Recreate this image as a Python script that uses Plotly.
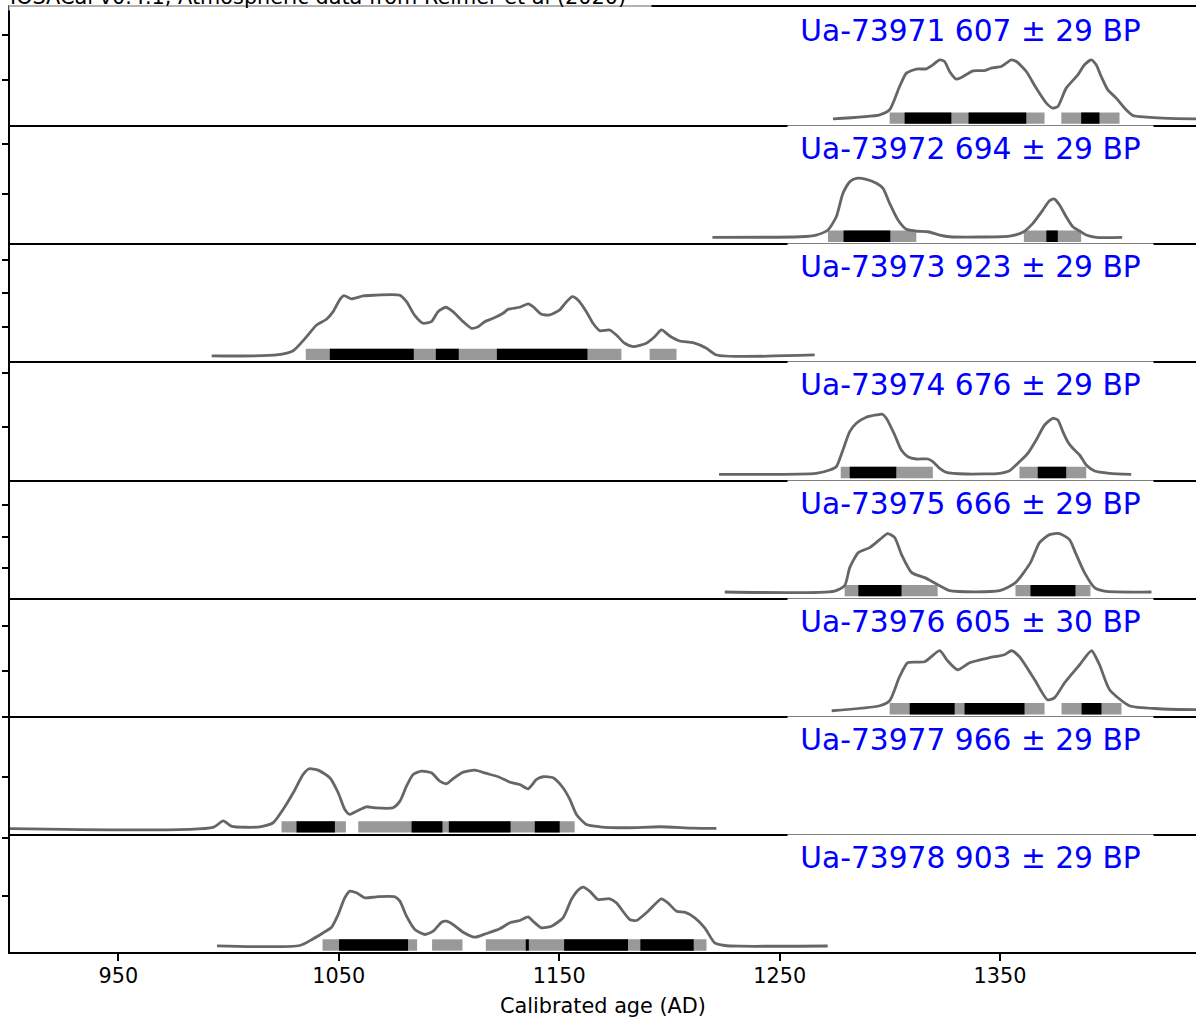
import plotly.graph_objects as go
from plotly.subplots import make_subplots

# ---------------- data ----------------
title_text = "IOSACal v0.4.1, Atmospheric data from Reimer et al (2020)"
x_title = "Calibrated age (AD)"
x_ticks = [950, 1050, 1150, 1250, 1350]
x_range = [900.8, 1438.9]

labels = [
    "Ua-73971 607 ± 29 BP",
    "Ua-73972 694 ± 29 BP",
    "Ua-73973 923 ± 29 BP",
    "Ua-73974 676 ± 29 BP",
    "Ua-73975 666 ± 29 BP",
    "Ua-73976 605 ± 30 BP",
    "Ua-73977 966 ± 29 BP",
    "Ua-73978 903 ± 29 BP",
]

p1_years = [1274.2, 1295.4, 1299.9, 1304.4, 1307.5, 1312.0, 1316.5, 1319.5, 1322.6, 1324.8, 1327.1, 1330.1,
            1332.4, 1337.7, 1343.0, 1346.0, 1350.5, 1352.8, 1355.1, 1357.4, 1361.9, 1366.4, 1371.0, 1373.9,
            1376.2, 1380.0, 1385.3, 1388.3, 1391.4, 1393.6, 1395.9, 1398.9, 1402.7, 1407.2, 1410.2, 1416.3,
            1423.8, 1440.0, 1460.0]
p1_prob = [0.063, 0.103, 0.153, 0.386, 0.52, 0.56, 0.563, 0.603, 0.653, 0.636, 0.536, 0.46,
           0.476, 0.543, 0.546, 0.57, 0.586, 0.62, 0.653, 0.636, 0.536, 0.37, 0.22, 0.17,
           0.186, 0.37, 0.503, 0.603, 0.653, 0.603, 0.486, 0.353, 0.27, 0.153, 0.096, 0.08,
           0.07, 0.063, 0.062]
p1_hpd95 = [(1299.9, 1370.2), (1377.8, 1404.2)]
p1_hpd68 = [(1306.7, 1327.9), (1335.7, 1361.9), (1386.8, 1395.1)]
p1_yticks = [0.453, 0.903]

p2_years = [1219.5, 1259.1, 1266.6, 1271.9, 1275.7, 1278.7, 1281.8, 1284.8, 1289.3, 1293.9, 1296.9, 1299.9,
            1303.7, 1307.5, 1312.0, 1317.3, 1322.6, 1327.1, 1354.3, 1360.3, 1364.9, 1369.4, 1372.5, 1374.7,
            1377.0, 1380.0, 1383.0, 1386.1, 1389.1, 1393.6, 1405.4]
p2_prob = [0.059, 0.065, 0.082, 0.132, 0.265, 0.499, 0.615, 0.649, 0.639, 0.599, 0.549, 0.399,
           0.232, 0.139, 0.122, 0.115, 0.082, 0.065, 0.072, 0.109, 0.199, 0.332, 0.425, 0.442,
           0.382, 0.265, 0.165, 0.122, 0.082, 0.059, 0.059]
p2_hpd95 = [(1271.9, 1312.0), (1360.8, 1386.8)]
p2_hpd68 = [(1279.0, 1300.2), (1371.0, 1376.2)]
p2_yticks = [0.494, 0.994]

p3_years = [992.3, 1021.8, 1029.3, 1035.4, 1039.9, 1044.4, 1047.4, 1050.5, 1052.3, 1055.8, 1061.0, 1065.6,
            1077.7, 1080.7, 1084.5, 1088.2, 1092.0, 1095.0, 1098.5, 1101.8, 1106.4, 1110.2, 1113.2, 1116.2,
            1120.0, 1124.5, 1126.8, 1132.1, 1135.9, 1138.1, 1141.9, 1145.7, 1150.2, 1153.3, 1156.0, 1158.5,
            1162.3, 1165.3, 1168.4, 1172.9, 1175.9, 1179.7, 1183.5, 1189.5, 1193.3, 1196.4, 1200.1, 1204.7,
            1210.7, 1216.8, 1221.3, 1265.9]
p3_prob = [0.054, 0.064, 0.107, 0.247, 0.364, 0.421, 0.497, 0.621, 0.657, 0.624, 0.654, 0.661,
           0.661, 0.597, 0.457, 0.381, 0.397, 0.497, 0.541, 0.497, 0.397, 0.331, 0.347, 0.397,
           0.431, 0.481, 0.521, 0.541, 0.574, 0.547, 0.471, 0.464, 0.514, 0.597, 0.647, 0.614,
           0.497, 0.381, 0.307, 0.314, 0.264, 0.181, 0.147, 0.181, 0.247, 0.314, 0.254, 0.204,
           0.187, 0.131, 0.064, 0.064]
p3_hpd95 = [(1035.0, 1178.2), (1191.0, 1203.2)]
p3_hpd68 = [(1045.9, 1084.0), (1094.0, 1104.4), (1121.7, 1162.8)]
p3_yticks = [0.34, 0.685, 1.015]

p4_years = [1222.5, 1266.6, 1272.7, 1275.7, 1278.7, 1281.8, 1284.8, 1289.3, 1293.9, 1296.6, 1298.4, 1302.2,
            1305.2, 1308.2, 1312.0, 1317.3, 1319.5, 1322.6, 1325.6, 1334.7, 1349.8, 1354.3, 1358.8, 1362.6,
            1366.4, 1370.2, 1373.9, 1376.2, 1378.5, 1380.7, 1383.0, 1386.1, 1389.1, 1392.9, 1399.7, 1409.5]
p4_prob = [0.052, 0.062, 0.095, 0.128, 0.295, 0.478, 0.562, 0.622, 0.645, 0.652, 0.612, 0.445,
           0.295, 0.228, 0.205, 0.205, 0.178, 0.112, 0.072, 0.055, 0.062, 0.088, 0.178, 0.262,
           0.395, 0.545, 0.612, 0.595, 0.478, 0.378, 0.312, 0.245, 0.145, 0.085, 0.062, 0.052]
p4_hpd95 = [(1277.7, 1319.5), (1358.8, 1389.1)]
p4_hpd68 = [(1281.8, 1302.9), (1367.1, 1380.0)]
p4_yticks = [0.526, 1.066]

p5_years = [1225.1, 1274.9, 1279.5, 1281.8, 1285.7, 1290.8, 1295.4, 1299.0, 1302.2, 1305.3, 1309.9, 1315.8,
            1321.7, 1327.1, 1349.8, 1357.0, 1363.8, 1367.9, 1372.5, 1377.0, 1381.5, 1384.2, 1388.3, 1392.9,
            1397.4, 1418.7]
p5_prob = [0.056, 0.066, 0.12, 0.30, 0.45, 0.50, 0.58, 0.64, 0.60, 0.43, 0.25, 0.20,
           0.13, 0.07, 0.07, 0.15, 0.35, 0.55, 0.63, 0.64, 0.58, 0.45, 0.25, 0.10,
           0.065, 0.056]
p5_hpd95 = [(1279.5, 1321.7), (1357.0, 1391.0)]
p5_hpd68 = [(1285.7, 1305.3), (1363.8, 1384.2)]
p5_yticks = [0.297, 0.607, 0.927]

p6_years = [1273.6, 1295.4, 1299.9, 1304.4, 1308.1, 1315.8, 1322.6, 1326.2, 1330.7, 1336.2, 1345.2, 1352.0,
            1355.2, 1358.8, 1365.7, 1371.5, 1374.7, 1379.3, 1386.1, 1391.5, 1395.1, 1399.7, 1408.7, 1422.3,
            1440.0, 1460.0]
p6_prob = [0.05, 0.10, 0.15, 0.39, 0.53, 0.54, 0.65, 0.55, 0.46, 0.53, 0.58, 0.61,
           0.65, 0.59, 0.36, 0.16, 0.18, 0.33, 0.51, 0.65, 0.51, 0.26, 0.10, 0.07,
           0.06, 0.06]
p6_hpd95 = [(1299.9, 1370.2), (1377.9, 1405.1)]
p6_hpd68 = [(1309.0, 1329.4), (1333.9, 1361.1), (1387.0, 1396.0)]
p6_yticks = [0.448, 0.898]

p7_years = [880.0, 993.0, 997.5, 1001.5, 1008.0, 1014.2, 1020.2, 1024.7, 1029.3, 1033.8, 1036.5, 1040.6,
            1045.9, 1049.7, 1052.7, 1055.0, 1058.0, 1062.6, 1066.3, 1074.6, 1077.7, 1080.7, 1083.7, 1087.5,
            1092.0, 1095.8, 1098.8, 1101.8, 1106.4, 1111.7, 1117.0, 1122.3, 1127.6, 1132.1, 1135.9, 1139.7,
            1142.7, 1147.2, 1151.7, 1154.8, 1157.8, 1162.3, 1168.4, 1180.5, 1195.6, 1210.7, 1221.3]
p7_prob = [0.06, 0.065, 0.13, 0.075, 0.066, 0.071, 0.111, 0.244, 0.411, 0.594, 0.651, 0.637,
           0.561, 0.411, 0.244, 0.194, 0.227, 0.271, 0.261, 0.261, 0.327, 0.477, 0.594, 0.627,
           0.611, 0.527, 0.501, 0.551, 0.617, 0.637, 0.604, 0.571, 0.517, 0.494, 0.451, 0.544,
           0.571, 0.561, 0.461, 0.344, 0.194, 0.094, 0.071, 0.061, 0.071, 0.057, 0.054]
p7_hpd95 = [(1024.0, 1053.2), (1058.8, 1157.0)]
p7_hpd68 = [(1030.8, 1048.2), (1083.0, 1097.0), (1099.9, 1127.9), (1138.9, 1150.2)]
p7_yticks = [0.57, 1.165]

p8_years = [994.7, 1032.3, 1038.4, 1042.9, 1046.7, 1049.7, 1052.7, 1055.0, 1058.0, 1061.8, 1067.1, 1075.4,
            1077.7, 1080.7, 1084.5, 1089.0, 1092.8, 1096.6, 1098.8, 1101.8, 1106.4, 1111.7, 1117.0, 1123.0,
            1127.6, 1132.1, 1135.9, 1138.1, 1141.9, 1146.5, 1151.7, 1155.5, 1158.5, 1160.8, 1163.8, 1167.6,
            1172.9, 1175.9, 1182.0, 1185.0, 1189.5, 1193.3, 1196.3, 1199.3, 1203.2, 1206.9, 1211.5, 1216.0,
            1220.5, 1225.1, 1231.9, 1271.8]
p8_prob = [0.062, 0.065, 0.132, 0.192, 0.248, 0.375, 0.542, 0.608, 0.592, 0.542, 0.552, 0.552,
           0.508, 0.358, 0.225, 0.175, 0.208, 0.298, 0.308, 0.275, 0.198, 0.148, 0.185, 0.232,
           0.292, 0.315, 0.352, 0.308, 0.242, 0.258, 0.342, 0.525, 0.618, 0.648, 0.608, 0.525,
           0.532, 0.492, 0.325, 0.315, 0.392, 0.475, 0.532, 0.492, 0.408, 0.398, 0.342, 0.242,
           0.092, 0.065, 0.058, 0.06]
p8_hpd95 = [(1042.6, 1085.5), (1092.3, 1106.1), (1116.7, 1216.8)]
p8_hpd68 = [(1050.1, 1081.4), (1134.8, 1136.2), (1152.2, 1181.2), (1186.8, 1211.0)]
p8_yticks = [0.561, 1.141]

panels = [
    (p1_years, p1_prob, p1_hpd95, p1_hpd68, p1_yticks),
    (p2_years, p2_prob, p2_hpd95, p2_hpd68, p2_yticks),
    (p3_years, p3_prob, p3_hpd95, p3_hpd68, p3_yticks),
    (p4_years, p4_prob, p4_hpd95, p4_hpd68, p4_yticks),
    (p5_years, p5_prob, p5_hpd95, p5_hpd68, p5_yticks),
    (p6_years, p6_prob, p6_hpd95, p6_hpd68, p6_yticks),
    (p7_years, p7_prob, p7_hpd95, p7_hpd68, p7_yticks),
    (p8_years, p8_prob, p8_hpd95, p8_hpd68, p8_yticks),
]

# ---------------- styling ----------------
FONT = "DejaVu Sans"
W, H = 1196, 1021
ML, MR, MT, MB = 10, 0, 7, 69
Y_TOP = 1.181
BAR_LEVEL = 0.07
CURVE_COLOR = "#666666"
N = len(panels)

fig = make_subplots(rows=N, cols=1, shared_xaxes=True, vertical_spacing=0)

for i, (yrs, prob, h95, h68, yt) in enumerate(panels):
    row = i + 1
    for (a, b) in h95:
        fig.add_trace(go.Scatter(x=[a, b], y=[BAR_LEVEL, BAR_LEVEL], mode="lines",
                                 line=dict(color="#999999", width=11.3), hoverinfo="skip",
                                 showlegend=False), row=row, col=1)
    for (a, b) in h68:
        fig.add_trace(go.Scatter(x=[a, b], y=[BAR_LEVEL, BAR_LEVEL], mode="lines",
                                 line=dict(color="#000000", width=11.3), hoverinfo="skip",
                                 showlegend=False), row=row, col=1)
    fig.add_trace(go.Scatter(x=yrs, y=prob, mode="lines",
                             line=dict(color=CURVE_COLOR, width=2.8, shape="spline", smoothing=0.6),
                             showlegend=False), row=row, col=1)
    fig.update_yaxes(range=[0, Y_TOP], tickvals=yt, showticklabels=False, ticks="outside",
                     ticklen=6, tickwidth=1.6, tickcolor="black", showline=True, linecolor="black",
                     linewidth=1.8, mirror=False, showgrid=False, zeroline=False, automargin=False,
                     row=row, col=1)
    last = (row == N)
    fig.update_xaxes(range=x_range, showline=True, mirror=(row == 1), linecolor="black", linewidth=1.8,
                     showgrid=False, zeroline=False, automargin=False,
                     ticks="outside" if last else "", tickvals=x_ticks if last else None,
                     showticklabels=last, ticklen=7, tickwidth=1.6, tickcolor="black",
                     row=row, col=1)

fig.update_xaxes(title=dict(text=x_title, font=dict(family=FONT, size=20.8, color="black"), standoff=12),
                 tickfont=dict(family=FONT, size=20.8, color="black"), ticklabelstandoff=-3,
                 row=N, col=1)

annotations = []
plot_w = W - ML - MR
for i, lab in enumerate(labels):
    top = 1 - i / N
    annotations.append(dict(
        text=lab, xref="paper", yref="paper", x=(1154 - ML) / plot_w, y=top,
        xanchor="right", yanchor="top", showarrow=False, align="center", width=356,
        font=dict(family=FONT, size=29.7, color="#0000ff"),
        bgcolor="white", borderpad=4.5))

annotations.append(dict(
    text=title_text, xref="paper", yref="paper", x=(8 - ML) / plot_w, y=1,
    xanchor="left", yanchor="bottom", yshift=-4.5, showarrow=False, align="left", width=640,
    font=dict(family=FONT, size=20.8, color="black"), bgcolor="rgba(255,255,255,0.7)", borderpad=1))

fig.update_layout(
    width=W, height=H,
    margin=dict(l=ML, r=MR, t=MT, b=MB, autoexpand=False),
    paper_bgcolor="white", plot_bgcolor="white",
    font=dict(family=FONT, color="black"),
    annotations=annotations,
    showlegend=False,
)

fig.write_html("out.html",
               config={"displayModeBar": False},
               post_script="document.body.style.margin='0';document.body.style.padding='0';"
                           "document.body.style.overflow='hidden';")
